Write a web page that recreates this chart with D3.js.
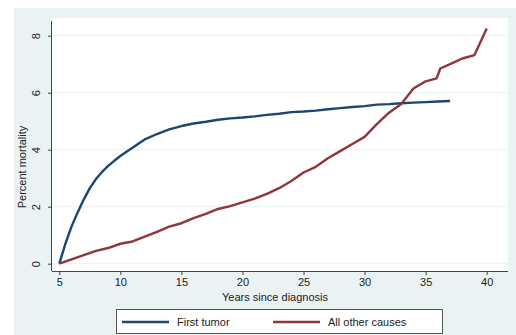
<!DOCTYPE html>
<html>
<head>
<meta charset="utf-8">
<script src="https://cdn.jsdelivr.net/npm/d3@7"></script>
<style>
  body { margin: 0; background: #fff; }
  text { font-family: "Liberation Sans", Arial, sans-serif; fill: #222; }
</style>
</head>
<body>
<div id="container"></div>
<script>
const width = 516;
const height = 335;

// years since diagnosis and percent mortality
const tumorYears = [5, 5.5, 6, 6.5, 7, 7.5, 8, 8.5, 9, 9.5, 10, 10.5, 11, 11.5, 12, 13, 14, 15, 16, 17, 18,
    19, 20, 21, 22, 23, 24, 25, 26, 27, 28, 29, 30, 31, 32, 33, 34, 35, 36, 37];
const tumorValues = [0, 0.7, 1.3, 1.8, 2.25, 2.65, 2.97, 3.22, 3.43, 3.61, 3.78, 3.93, 4.07, 4.22, 4.36,
    4.55, 4.71, 4.83, 4.92, 4.98, 5.05, 5.1, 5.13, 5.17, 5.22, 5.26, 5.32, 5.34, 5.37, 5.42, 5.46, 5.5,
    5.53, 5.58, 5.6, 5.63, 5.65, 5.67, 5.69, 5.71];

const otherYears = [5, 6, 7, 8, 9, 10, 11, 12, 13, 14, 15, 16, 17, 18, 19, 20, 21, 22, 23, 24, 25, 26,
    27, 28, 29, 30, 31, 32, 33, 34, 35, 35.9, 36.2, 37, 38, 39, 40];
const otherValues = [0, 0.15, 0.3, 0.45, 0.55, 0.7, 0.78, 0.95, 1.12, 1.3, 1.42, 1.6, 1.75, 1.92, 2.02,
    2.15, 2.28, 2.45, 2.65, 2.9, 3.2, 3.4, 3.7, 3.95, 4.2, 4.45, 4.9, 5.3, 5.6, 6.15, 6.4, 6.5, 6.85,
    7.0, 7.2, 7.32, 8.25];

const xTicks = [5, 10, 15, 20, 25, 30, 35, 40];
const yTicks = [0, 2, 4, 6, 8];
const seriesNames = ["First tumor", "All other causes"];
const seriesColors = ["#1a476f", "#90353b"];

const series = [
    tumorYears.map((d, i) => ({ x: d, y: tumorValues[i] })),
    otherYears.map((d, i) => ({ x: d, y: otherValues[i] }))
];

let x = d3.scaleLinear().domain([5, 40]).range([59.3, 486.7]);
let y = d3.scaleLinear().domain([0, 8]).range([263.7, 35.7]);

let svg = d3.select("#container").append("svg")
    .attr("width", width)
    .attr("height", height)
    .attr("viewBox", `0 0 ${width} ${height}`);

// graph region and plot region
svg.append("rect")
    .attr("x", 14).attr("y", 8)
    .attr("width", width - 14).attr("height", height - 8)
    .attr("fill", "#eaf2f3");
svg.append("rect")
    .attr("x", 52).attr("y", 18)
    .attr("width", 456).attr("height", 253)
    .attr("fill", "#fff");

// horizontal grid
svg.append("g")
    .selectAll("line")
    .data(yTicks)
    .join("line")
    .attr("x1", 52).attr("x2", 508)
    .attr("y1", d => y(d)).attr("y2", d => y(d))
    .attr("stroke", "#eaf2f3")
    .attr("stroke-width", 1);

// axes
let xAxis = svg.append("g")
    .attr("transform", "translate(0,271)")
    .call(d3.axisBottom(x).tickValues(xTicks).tickSize(4).tickPadding(3));
xAxis.select(".domain").attr("d", "M52,0.5H508");

let yAxis = svg.append("g")
    .attr("transform", "translate(52,0)")
    .call(d3.axisLeft(y).tickValues(yTicks).tickSize(4).tickPadding(4));
yAxis.select(".domain").attr("d", "M-0.5,21V271");

svg.selectAll(".domain").attr("stroke", "#444");
svg.selectAll(".tick line").attr("stroke", "#444");
xAxis.selectAll(".tick text")
    .attr("font-size", 11)
    .style("font-family", "'Liberation Sans', Arial, sans-serif")
    .attr("fill", "#222");
yAxis.selectAll(".tick text")
    .attr("font-size", 11)
    .style("font-family", "'Liberation Sans', Arial, sans-serif")
    .attr("fill", "#222")
    .attr("text-anchor", "middle")
    .attr("dy", 0)
    .attr("x", 0)
    .attr("transform", "translate(-12,0) rotate(-90)");

// axis titles
svg.append("text")
    .attr("x", 275).attr("y", 301)
    .attr("text-anchor", "middle")
    .attr("font-size", 11)
    .text("Years since diagnosis");

svg.append("text")
    .attr("transform", "translate(26,167) rotate(-90)")
    .attr("text-anchor", "middle")
    .attr("font-size", 11)
    .text("Percent mortality");

// curves
let line = d3.line().x(d => x(d.x)).y(d => y(d.y));

svg.append("g")
    .selectAll("path")
    .data(series)
    .join("path")
    .attr("d", line)
    .attr("fill", "none")
    .attr("stroke", (d, i) => seriesColors[i])
    .attr("stroke-width", 2.4)
    .attr("stroke-linejoin", "round");

// legend
let legend = svg.append("g");
legend.append("rect")
    .attr("x", 116.5).attr("y", 309.5)
    .attr("width", 326).attr("height", 24)
    .attr("fill", "#fff")
    .attr("stroke", "#555");

let item = legend.selectAll("g")
    .data(seriesNames)
    .join("g")
    .attr("transform", (d, i) => "translate(" + (122 + i * 151) + ",322)");

item.append("line")
    .attr("x1", 0).attr("x2", 47)
    .attr("stroke", (d, i) => seriesColors[i])
    .attr("stroke-width", 2.4);

item.append("text")
    .attr("x", 55).attr("y", 4)
    .attr("font-size", 11)
    .text(d => d);
</script>
</body>
</html>
